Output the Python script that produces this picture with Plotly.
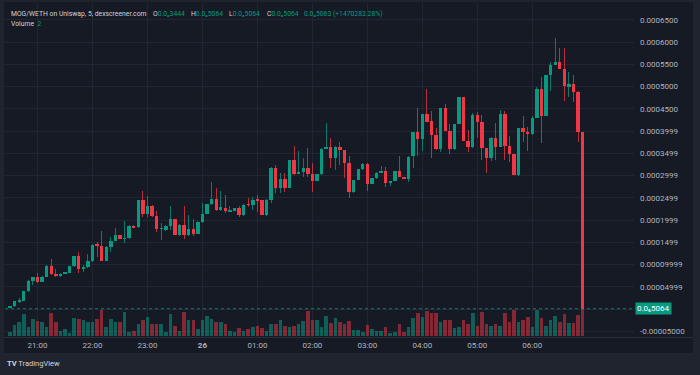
import pandas as pd
import plotly.graph_objects as go

# ---------------- data (prices in units of 1e-6 WETH) ----------------
SCALE = 1e-6
open_ = [4, 6, 17, 19, 40, 64, 72, 61, 72, 97, 79, 74, 79, 81, 96, 119, 91, 94, 107, 146,
         142, 109, 139, 154, 166, 158, 159, 187, 184, 244, 214, 232, 210, 180, 178, 187, 202, 166, 189, 166,
         180, 169, 196, 213, 235, 247, 223, 228, 220, 221, 226, 211, 235, 234, 246, 245, 211, 246, 318, 273,
         292, 273, 335, 304, 308, 316, 304, 288, 303, 360, 365, 339, 365, 357, 329, 262, 290, 314, 327, 280,
         294, 306, 310, 283, 288, 311, 297, 292, 343, 398, 382, 438, 422, 391, 360, 451, 400, 359, 415, 476,
         378, 364, 436, 421, 361, 340, 385, 365, 438, 366, 348, 301, 406, 399, 393, 430, 495, 435, 525, 549,
         555, 540, 501, 505, 488, 397]
high = [7, 19, 24, 41, 65, 73, 82, 74, 98, 112, 91, 80, 83, 97, 120, 128, 100, 124, 146, 151,
        175, 141, 161, 183, 183, 198, 188, 189, 245, 266, 254, 233, 221, 193, 188, 232, 204, 190, 231, 211,
        203, 197, 238, 281, 286, 271, 266, 257, 232, 227, 232, 235, 249, 251, 256, 268, 247, 319, 324, 306,
        306, 336, 367, 355, 340, 363, 328, 304, 361, 419, 385, 366, 376, 358, 343, 291, 315, 328, 328, 294,
        307, 322, 320, 288, 311, 344, 298, 343, 399, 451, 438, 495, 445, 408, 451, 462, 415, 415, 476, 477,
        402, 441, 444, 436, 362, 386, 418, 447, 445, 389, 378, 406, 434, 410, 434, 500, 522, 526, 556, 609,
        586, 586, 533, 526, 489, 398]
low = [3, 5, 13, 17, 39, 54, 58, 60, 71, 76, 73, 73, 78, 80, 95, 80, 84, 93, 105, 118,
       108, 108, 128, 152, 145, 149, 158, 182, 183, 207, 207, 207, 174, 155, 176, 178, 159, 165, 157, 165,
       165, 168, 194, 212, 234, 221, 221, 215, 219, 220, 207, 210, 230, 223, 219, 210, 210, 238, 261, 261,
       263, 272, 301, 303, 297, 297, 264, 260, 302, 359, 316, 312, 324, 295, 250, 260, 289, 313, 265, 279,
       293, 305, 275, 277, 287, 297, 291, 286, 318, 343, 355, 421, 339, 357, 354, 400, 348, 358, 406, 377,
       354, 363, 384, 335, 305, 333, 335, 364, 335, 331, 274, 300, 376, 356, 392, 429, 373, 434, 491, 548,
       539, 468, 477, 466, 376, 0.5064]
close = [6, 18, 20, 40, 64, 72, 61, 72, 97, 78, 74, 79, 81, 96, 119, 91, 94, 107, 145, 142,
         109, 140, 154, 166, 158, 159, 187, 183, 244, 214, 232, 210, 179, 180, 187, 202, 166, 189, 166, 180,
         169, 196, 213, 235, 247, 223, 229, 220, 223, 226, 211, 234, 234, 245, 245, 211, 246, 318, 273, 292,
         273, 335, 304, 308, 316, 304, 288, 303, 360, 365, 339, 365, 357, 328, 262, 290, 314, 327, 280, 294,
         306, 311, 283, 288, 311, 297, 292, 342, 398, 382, 438, 421, 391, 360, 451, 400, 359, 415, 476, 378,
         364, 436, 421, 361, 340, 385, 365, 438, 366, 348, 301, 406, 399, 393, 430, 495, 435, 525, 549, 555,
         540, 501, 505, 488, 397, 0.5064]
volume = [12, 32, 40, 64, 26, 50, 44, 42, 26, 68, 42, 14, 20, 8, 54, 50, 47, 40, 40, 50,
          77, 26, 50, 42, 40, 70, 12, 14, 34, 48, 56, 36, 36, 34, 12, 64, 30, 14, 70, 46,
          46, 20, 46, 60, 50, 42, 42, 34, 14, 10, 22, 14, 20, 26, 28, 22, 14, 34, 34, 48,
          30, 26, 30, 36, 44, 74, 47, 48, 26, 60, 37, 52, 42, 36, 45, 18, 18, 10, 32, 20,
          14, 14, 27, 7, 12, 35, 12, 26, 52, 68, 56, 74, 67, 67, 40, 46, 48, 22, 26, 46,
          36, 67, 28, 70, 34, 28, 34, 28, 67, 42, 77, 40, 46, 56, 26, 77, 52, 28, 46, 58,
          42, 66, 37, 37, 62, 80]
start_time = "2024-06-25 20:30"
hour_start = "2024-06-25 21:00"
hour_labels = ["21:00", "22:00", "23:00", "<b>26</b>", "01:00", "02:00", "03:00", "04:00", "05:00", "06:00"]
price_tick_vals = [0.00065, 0.0006, 0.00055, 0.0005, 0.00045, 0.0004, 0.00035, 0.0003, 0.00025,
                   0.0002, 0.00015, 0.0001, 0.00005, 0.0, -0.00005]
price_tick_text = ["0.0006500", "0.0006000", "0.0005500", "0.0005000", "0.0004500", "0.0003999",
                   "0.0003499", "0.0002999", "0.0002499", "0.0001999", "0.0001499", "0.00009999",
                   "0.00004999", "", "-0.00005000"]
last_price = 0.0000005064
last_price_label = "0.0₆5064"
header_title = "MOG/WETH on Uniswap, 5, dexscreener.com"
header_fields = [("O", "0.0₆3444"), ("H", "0.0₆5064"), ("L", "0.0₆5064"), ("C", "0.0₆5064"),
                 ("", "0.0₆5063 (+1470283.28%)")]
volume_label = "2"

# ---------------- styling ----------------
W, H = 700, 375
PL, PR, PT, PB = 5, 634, 3, 337          # plot area in pixels
BG_PANEL = "#161a25"
BG_OUT = "#20242e"
GRID = "#222632"
TEXT = "#b2b5be"
UP = "#089981"
DOWN = "#f23645"
UP_WICK = "rgba(8,153,129,0.75)"
DOWN_WICK = "rgba(242,54,69,0.75)"
UP_VOL = "rgba(8,153,129,0.55)"
DOWN_VOL = "rgba(242,54,69,0.5)"
FONT = "Roboto, DejaVu Sans, sans-serif"
HEADER_X = [151, 189, 227, 265, 302]
HEADER_SIZE = 6.8


def px_x(x):
    return (x - PL) / (PR - PL)


def px_y(y):
    return (PB - y) / (PB - PT)


times = pd.date_range(start_time, periods=len(open_), freq="5min")
hour_ticks = pd.date_range(hour_start, periods=len(hour_labels), freq="h")

O = [v * SCALE for v in open_]
Hh = [v * SCALE for v in high]
L = [v * SCALE for v in low]
C = [v * SCALE for v in close]
up = [c >= o for o, c in zip(O, C)]
MIN_BODY = 0.9 * SCALE

step_ms = 5 * 60 * 1000
body_w = step_ms * 0.74
wick_w = step_ms * 0.2

fig = go.Figure()

# volume
fig.add_trace(go.Bar(
    x=times, y=volume, yaxis="y2", width=step_ms * 0.78,
    marker=dict(color=[UP_VOL if u else DOWN_VOL for u in up], line=dict(width=0)),
    hoverinfo="skip", showlegend=False))

# wicks
fig.add_trace(go.Bar(
    x=times, y=[h - l for h, l in zip(Hh, L)], base=L, width=wick_w,
    marker=dict(color=[UP_WICK if u else DOWN_WICK for u in up], line=dict(width=0)),
    hoverinfo="skip", showlegend=False))

# bodies
fig.add_trace(go.Bar(
    x=times, y=[max(abs(c - o), MIN_BODY) for o, c in zip(O, C)],
    base=[min(o, c) for o, c in zip(O, C)], width=body_w,
    marker=dict(color=[UP if u else DOWN for u in up], line=dict(width=0)),
    hoverinfo="skip", showlegend=False))

x0 = times[0] - pd.Timedelta(minutes=5.5)
x1 = times[0] + pd.Timedelta(minutes=681)
y_lo = -(PB - 309) / 22.24 * 0.00005
y_hi = (309 - PT) / 22.24 * 0.00005

fig.update_layout(
    width=W, height=H,
    margin=dict(l=PL, r=W - PR, t=PT, b=H - PB, autoexpand=False),
    paper_bgcolor=BG_OUT, plot_bgcolor=BG_PANEL,
    barmode="overlay", bargap=0,
    font=dict(family=FONT, size=8, color=TEXT),
    xaxis=dict(type="date", range=[x0, x1], tickvals=hour_ticks, ticktext=hour_labels,
               showgrid=True, gridcolor=GRID, gridwidth=1, zeroline=False, showline=False,
               ticks="", tickfont=dict(size=8, color=TEXT), ticklabelstandoff=2, fixedrange=True),
    yaxis=dict(range=[y_lo, y_hi], side="right", tickvals=price_tick_vals, ticktext=price_tick_text,
               showgrid=True, gridcolor=GRID, gridwidth=1, zeroline=False, showline=False,
               ticks="", tickfont=dict(size=8, color=TEXT), ticklabelstandoff=5),
    yaxis2=dict(range=[-4, 1000], overlaying="y", visible=False),
    showlegend=False,
)

shapes = [
    dict(type="rect", xref="paper", yref="paper", x0=px_x(4), x1=px_x(693), y0=px_y(353), y1=px_y(2),
         fillcolor=BG_PANEL, line=dict(width=0), layer="below"),
    dict(type="line", xref="paper", yref="paper", x0=px_x(4), x1=px_x(693), y0=px_y(337.5), y1=px_y(337.5),
         line=dict(color="#2a2e39", width=1)),
    dict(type="line", xref="paper", yref="y", x0=0, x1=px_x(636), y0=last_price, y1=last_price,
         line=dict(color="rgba(8,153,129,0.8)", width=1, dash="dot")),
]
fig.update_layout(shapes=shapes)

annotations = [
    dict(xref="paper", yref="y", x=px_x(635), y=last_price, xanchor="left", yanchor="middle",
         text=last_price_label, showarrow=False, bgcolor=UP, borderpad=1,
         font=dict(size=8, color="#ffffff", family=FONT)),
    dict(xref="paper", yref="paper", x=px_x(9), y=px_y(14), xanchor="left", yanchor="middle",
         showarrow=False, font=dict(size=HEADER_SIZE, color="#d1d4dc", family=FONT), text=header_title),
    dict(xref="paper", yref="paper", x=px_x(9), y=px_y(24), xanchor="left", yanchor="middle",
         showarrow=False, font=dict(size=HEADER_SIZE, color="#d1d4dc", family=FONT),
         text=f"Volume&nbsp;&nbsp;<span style='color:{UP}'>{volume_label}</span>"),
    dict(xref="paper", yref="paper", x=px_x(5), y=px_y(363), xanchor="left", yanchor="middle",
         showarrow=False, font=dict(size=7.5, color="#d1d4dc", family=FONT),
         text="<b>TV</b> TradingView"),
]
for (lab, val), hx in zip(header_fields, HEADER_X):
    annotations.append(dict(
        xref="paper", yref="paper", x=px_x(hx), y=px_y(14), xanchor="left", yanchor="middle",
        showarrow=False, font=dict(size=HEADER_SIZE, color="#d1d4dc", family=FONT),
        text=f"{lab}<span style='color:{UP}'>{val}</span>"))
fig.update_layout(annotations=annotations)

fig.write_html("out.html", config={"displayModeBar": False},
               post_script="document.body.style.margin='0px';document.body.style.overflow='hidden';")
